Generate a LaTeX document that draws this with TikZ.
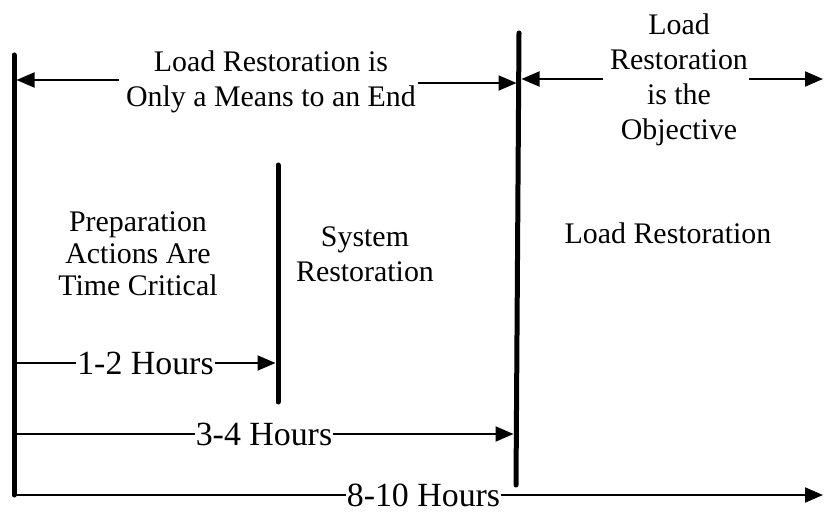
\documentclass[tikz,border=0pt]{standalone}
\usepackage{fontspec}
\setmainfont{Liberation Serif}
\usetikzlibrary{arrows.meta}
\begin{document}
\begin{tikzpicture}[x=1bp,y=-1bp,
  bar/.style={line width=5bp, line cap=round},
  conn/.style={line width=2bp, -{Triangle[length=18bp,width=15bp]}},
  plain/.style={line width=2bp},
  lbl/.style={font=\fontsize{30}{35}\selectfont, align=center, inner sep=0pt},
  hrs/.style={font=\fontsize{34}{39}\selectfont, inner xsep=1bp, inner ysep=0pt}]
\useasboundingbox (0,0) rectangle (824,518);
% bars
\coordinate (L1) at (14,55);  \coordinate (L2) at (14,495);
\coordinate (M1) at (278,165); \coordinate (M2) at (278,402);
\coordinate (R1) at (519,33); \coordinate (R2) at (516,485);
\draw[bar] (L1) -- (L2);
\draw[bar] (M1) -- (M2);
\draw[bar] (R1) -- (R2);
% labels
\node[lbl] (tl) at (271,82) {Load Restoration is\\Only a Means to an End};
\node[lbl] (tr) at (679,80) {Load\\Restoration\\is the\\Objective};
\node[lbl,font=\fontsize{30}{32}\selectfont] (prep) at (138,254) {Preparation\\Actions Are\\Time Critical};
\node[lbl] (sys) at (365,254) {System\\Restoration};
\node[lbl] (load) at (668,233) {Load Restoration};
% top-left arrows
\coordinate (tlA) at (119,80); \coordinate (tlB) at (16.5,80);
\coordinate (tlC) at (418,83); \coordinate (tlD) at (516.5,83);
\draw[conn] (tlA) -- (tlB);
\draw[conn] (tlC) -- (tlD);
% top-right arrows
\coordinate (trA) at (603,79); \coordinate (trB) at (521.5,79);
\coordinate (trC) at (749,79); \coordinate (trD) at (823,79);
\draw[conn] (trA) -- (trB);
\draw[conn] (trC) -- (trD);
% hours
\node[hrs] (h12) at (145.5,363) {1-2 Hours};
\coordinate (h12a) at (14,363); \coordinate (h12b) at (275.5,363);
\draw[plain] (h12a) -- (h12.west);
\draw[conn] (h12.east) -- (h12b);
\node[hrs] (h34) at (264,434) {3-4 Hours};
\coordinate (h34a) at (14,434); \coordinate (h34b) at (513.5,434);
\draw[plain] (h34a) -- (h34.west);
\draw[conn] (h34.east) -- (h34b);
\node[hrs] (h810) at (423.5,495) {8-10 Hours};
\coordinate (h810a) at (14,495); \coordinate (h810b) at (823,495);
\draw[plain] (h810a) -- (h810.west);
\draw[conn] (h810.east) -- (h810b);
\end{tikzpicture}
\end{document}
